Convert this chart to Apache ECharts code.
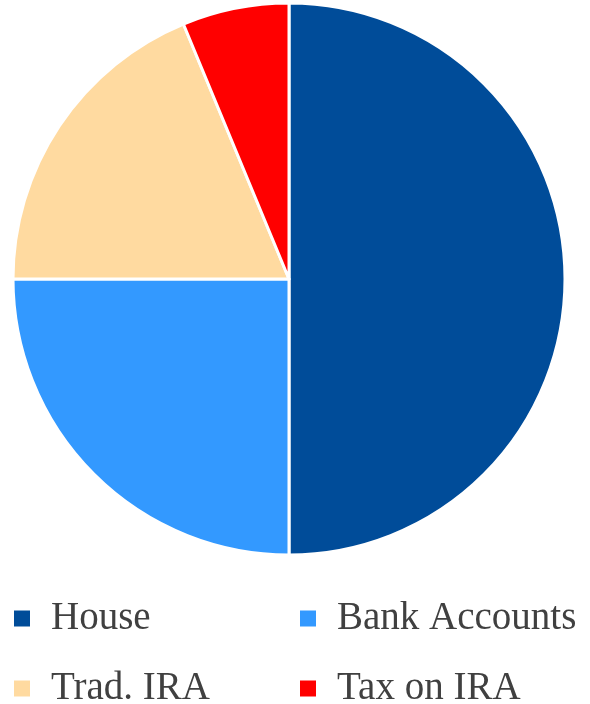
<!DOCTYPE html>
<html><head><meta charset="utf-8">
<script src="https://cdn.jsdelivr.net/npm/echarts@6/dist/echarts.min.js"></script>
<style>html,body{margin:0;padding:0;background:#fff}#c{width:590px;height:704px}</style>
</head><body><div id="c"></div>
<script>
const categories = ['House', 'Bank Accounts', 'Trad. IRA', 'Tax on IRA'];
const values = [400000, 200000, 150000, 50000];
const colors = ['#004C99', '#3399FF', '#FFDAA0', '#FF0000'];
const legendPos = [[7, 594], [293, 594], [7, 664], [293, 664]];

const chart = echarts.init(document.getElementById('c'));
chart.setOption({
  animation: false,
  color: colors,
  legend: categories.map((c, i) => ({
    data: [c], left: legendPos[i][0], top: legendPos[i][1],
    icon: 'rect', itemWidth: 18, itemHeight: 18, itemGap: 0,
    textStyle: { fontFamily: 'Liberation Serif', fontSize: 39, color: '#404040', padding: [0, 0, 0, 15] }
  })),
  series: [{
    type: 'pie', center: [289, 279], radius: [0, 276], startAngle: 90, clockwise: true,
    label: { show: false }, labelLine: { show: false },
    itemStyle: { borderColor: '#fff', borderWidth: 3 },
    data: categories.map((c, i) => ({ name: c, value: values[i] }))
  }]
});
</script></body></html>
